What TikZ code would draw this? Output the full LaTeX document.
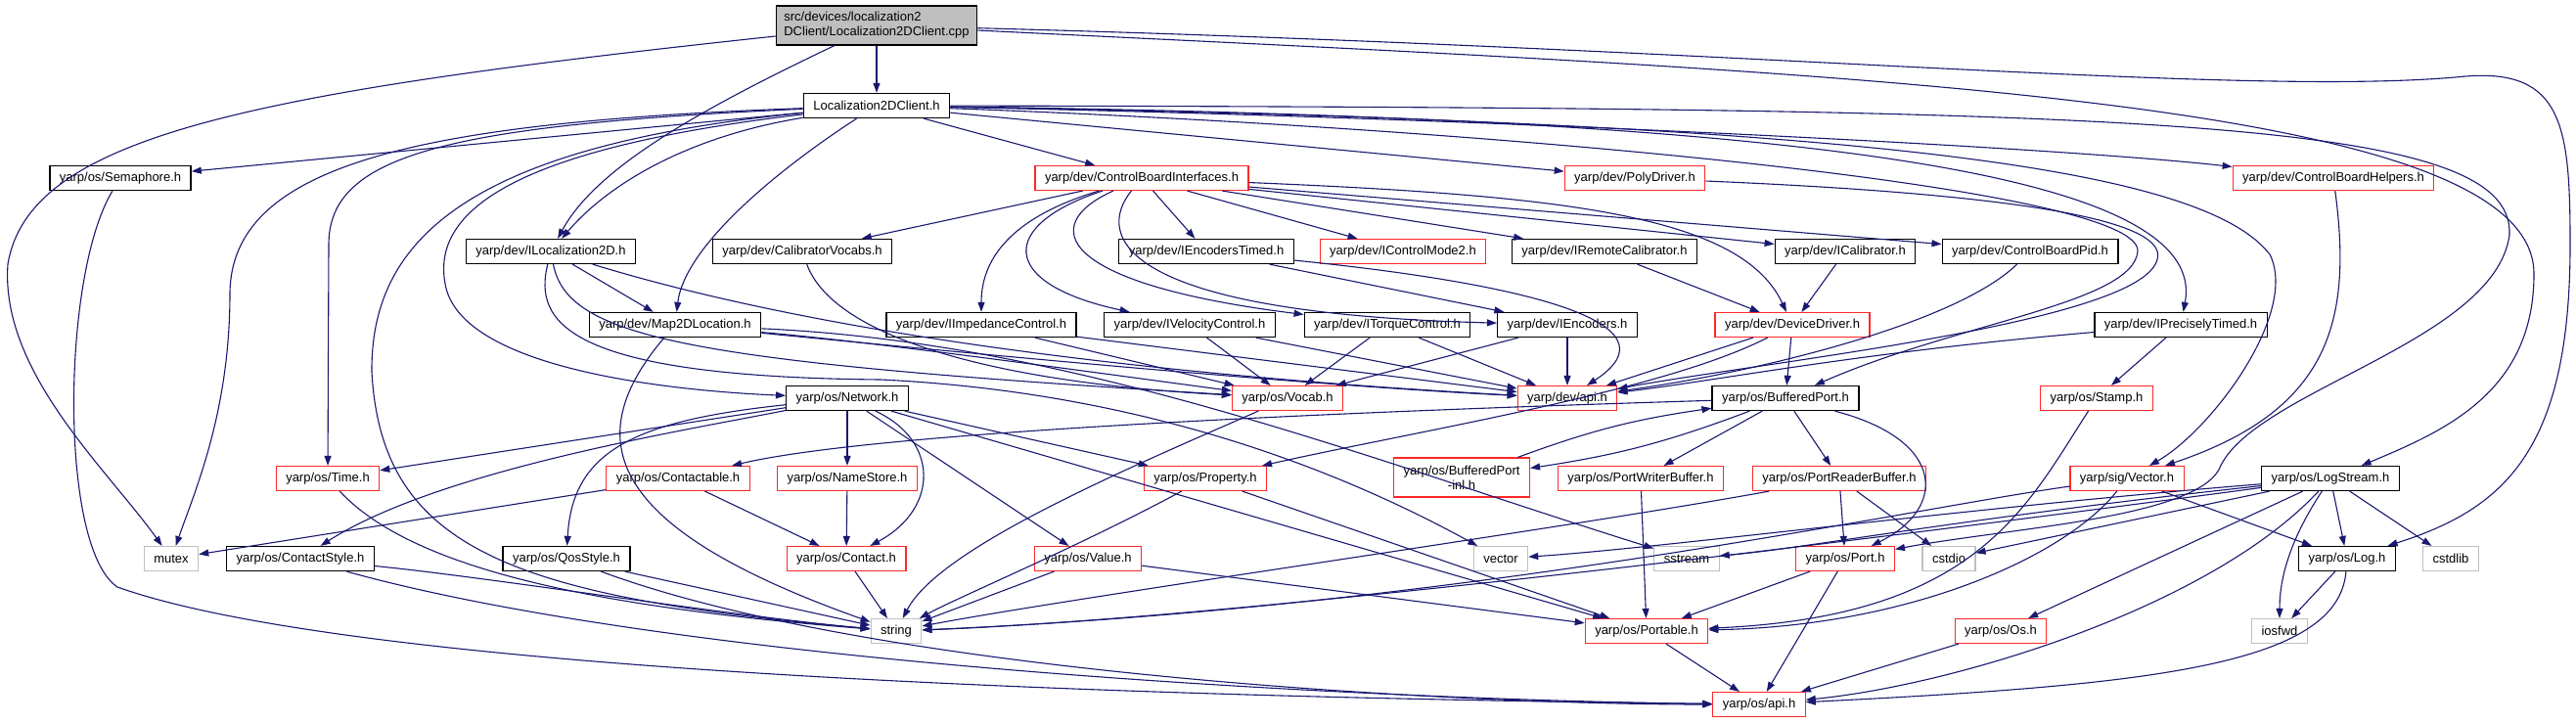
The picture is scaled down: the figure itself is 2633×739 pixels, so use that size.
\documentclass[tikz,border=0pt]{standalone}
\usepackage{fontspec}
\setmainfont{Liberation Sans}
\usepackage{tikz}
\usetikzlibrary{arrows.meta}
\definecolor{edgeblue}{RGB}{25,25,112}
\definecolor{truncred}{RGB}{255,40,40}
\definecolor{sysgray}{RGB}{191,191,191}
\tikzset{
  hdr/.style={draw=black, line width=1.3pt, fill=white, inner xsep=10pt, inner ysep=2pt,
    minimum height=25pt, font=\fontsize{13}{15}\selectfont},
  hdrred/.style={hdr, draw=truncred, line width=1.1pt},
  sysfile/.style={hdr, draw=sysgray, line width=1.1pt},
  srcfile/.style={hdr, fill=sysgray, align=left, minimum height=40pt, inner xsep=8pt},
  dep/.style={draw=edgeblue, line width=1.1pt, -{Triangle[length=10pt,width=7pt]}}
}
\begin{document}
\begin{tikzpicture}[x=1pt, y=-1pt]
  \useasboundingbox[fill=white] (0,0) rectangle (2633,739);
  % rows from top to bottom
  \node[srcfile] (root) at (896,26) {src/devices/localization2\\DClient/Localization2DClient.cpp};
  \node[hdr] (l2dc) at (896,108) {Localization2DClient.h};
  \node[hdr] (sem) at (123,182) {yarp/os/Semaphore.h};
  \node[hdrred] (cbi) at (1167,182) {yarp/dev/ControlBoardInterfaces.h};
  \node[hdrred] (poly) at (1671,182) {yarp/dev/PolyDriver.h};
  \node[hdrred] (cbh) at (2385,182) {yarp/dev/ControlBoardHelpers.h};
  \node[hdr] (iloc) at (563,257) {yarp/dev/ILocalization2D.h};
  \node[hdr] (calv) at (820,257) {yarp/dev/CalibratorVocabs.h};
  \node[hdr] (ienct) at (1233,257) {yarp/dev/IEncodersTimed.h};
  \node[hdrred] (icm) at (1434,257) {yarp/dev/IControlMode2.h};
  \node[hdr] (irc) at (1640,257) {yarp/dev/IRemoteCalibrator.h};
  \node[hdr] (ical) at (1886,257) {yarp/dev/ICalibrator.h};
  \node[hdr] (cbpid) at (2075,257) {yarp/dev/ControlBoardPid.h};
  \node[hdr] (map) at (690,332) {yarp/dev/Map2DLocation.h};
  \node[hdr] (iimp) at (1003,332) {yarp/dev/IImpedanceControl.h};
  \node[hdr] (ivel) at (1216,332) {yarp/dev/IVelocityControl.h};
  \node[hdr] (itor) at (1418,332) {yarp/dev/ITorqueControl.h};
  \node[hdr] (ienc) at (1602,332) {yarp/dev/IEncoders.h};
  \node[hdrred] (ddrv) at (1832,332) {yarp/dev/DeviceDriver.h};
  \node[hdr] (iprt) at (2229,332) {yarp/dev/IPreciselyTimed.h};
  \node[hdr] (net) at (866,407) {yarp/os/Network.h};
  \node[hdrred] (vocab) at (1316,407) {yarp/os/Vocab.h};
  \node[hdrred] (devapi) at (1602,407) {yarp/dev/api.h};
  \node[hdr] (bport) at (1825,407) {yarp/os/BufferedPort.h};
  \node[hdrred] (stamp) at (2143,407) {yarp/os/Stamp.h};
  \node[hdrred] (time) at (335,489) {yarp/os/Time.h};
  \node[hdrred] (ctbl) at (693,489) {yarp/os/Contactable.h};
  \node[hdrred] (nstore) at (866,489) {yarp/os/NameStore.h};
  \node[hdrred] (prop) at (1232,489) {yarp/os/Property.h};
  \node[hdrred, align=center, minimum height=40pt] (bpinl) at (1494,488) {yarp/os/BufferedPort\\-inl.h};
  \node[hdrred] (pwb) at (1677,489) {yarp/os/PortWriterBuffer.h};
  \node[hdrred] (prb) at (1880,489) {yarp/os/PortReaderBuffer.h};
  \node[hdrred] (svec) at (2174,489) {yarp/sig/Vector.h};
  \node[hdr] (lstream) at (2382,489) {yarp/os/LogStream.h};
  \node[sysfile] (mutex) at (175,571) {mutex};
  \node[hdr] (cstyle) at (307,571) {yarp/os/ContactStyle.h};
  \node[hdr] (qos) at (579,571) {yarp/os/QosStyle.h};
  \node[hdrred] (contact) at (865,571) {yarp/os/Contact.h};
  \node[hdrred] (value) at (1112,571) {yarp/os/Value.h};
  \node[sysfile] (vector) at (1534,571) {vector};
  \node[sysfile] (sstream) at (1724,571) {sstream};
  \node[hdrred] (port) at (1886,571) {yarp/os/Port.h};
  \node[sysfile] (cstdio) at (1992,571) {cstdio};
  \node[hdr] (log) at (2399,571) {yarp/os/Log.h};
  \node[sysfile] (cstdlib) at (2505,571) {cstdlib};
  \node[sysfile] (string) at (916,645) {string};
  \node[hdrred] (portable) at (1683,645) {yarp/os/Portable.h};
  \node[hdrred] (os) at (2045,645) {yarp/os/Os.h};
  \node[sysfile] (iosfwd) at (2330,645) {iosfwd};
  \node[hdrred] (osapi) at (1798,720) {yarp/os/api.h};

  % source file
  \draw[dep] (root) -- (l2dc);
  \draw[dep] (root) .. controls (250,95) and (30,140) .. (8,270) .. controls (0,380) and (110,480) .. (mutex);
  \draw[dep] (root) .. controls (720,110) and (610,170) .. (iloc);
  \draw[dep] (root) .. controls (1900,75) and (2590,100) .. (2590,280) .. controls (2590,400) and (2500,440) .. (lstream);
  \draw[dep] (root) .. controls (1800,50) and (2300,100) .. (2520,78) .. controls (2620,70) and (2627,130) .. (2627,250) .. controls (2627,460) and (2560,520) .. (log);

  % Localization2DClient.h
  \draw[dep] (l2dc) -- (sem);
  \draw[dep] (l2dc) .. controls (420,125) and (236,170) .. (235,300) .. controls (235,420) and (200,500) .. (mutex);
  \draw[dep] (l2dc) .. controls (450,128) and (336,160) .. (336,250) -- (time);
  \draw[dep] (l2dc) .. controls (470,150) and (379,250) .. (380,380) .. controls (390,560) and (520,610) .. (string);
  \draw[dep] (l2dc) .. controls (540,150) and (440,210) .. (455,290) .. controls (470,380) and (700,400) .. (net);
  \draw[dep] (l2dc) .. controls (700,140) and (620,190) .. (iloc);
  \draw[dep] (l2dc) .. controls (800,170) and (700,250) .. (map);
  \draw[dep] (l2dc) -- (cbi);
  \draw[dep] (l2dc) -- (poly);
  \draw[dep] (l2dc) .. controls (1500,120) and (2100,150) .. (cbh);
  \draw[dep] (l2dc) .. controls (1800,120) and (2260,170) .. (iprt);
  \draw[dep] (l2dc) .. controls (1900,125) and (2250,170) .. (2320,260) .. controls (2350,320) and (2260,440) .. (svec);
  \draw[dep] (l2dc) .. controls (2200,110) and (2570,120) .. (2565,240) .. controls (2550,350) and (2300,400) .. (2268,480) .. controls (2240,530) and (2050,540) .. (port);
  \draw[dep] (l2dc) .. controls (1500,130) and (2190,190) .. (2185,257) .. controls (2180,310) and (2000,330) .. (bport);

  % control board interfaces
  \draw[dep] (cbi) -- (calv);
  \draw[dep] (cbi) -- (ienct);
  \draw[dep] (cbi) -- (icm);
  \draw[dep] (cbi) -- (irc);
  \draw[dep] (cbi) -- (ical);
  \draw[dep] (cbi) -- (cbpid);
  \draw[dep] (cbi) .. controls (1040,220) and (1003,260) .. (iimp);
  \draw[dep] (cbi) .. controls (1020,230) and (1020,290) .. (ivel);
  \draw[dep] (cbi) .. controls (1060,230) and (1080,290) .. (itor);
  \draw[dep] (cbi) .. controls (1120,240) and (1140,320) .. (ienc);
  \draw[dep] (cbi) .. controls (1600,200) and (1780,220) .. (ddrv);
  \draw[dep] (poly) .. controls (2100,200) and (2215,230) .. (2205,265) .. controls (2190,330) and (1800,370) .. (devapi);
  \draw[dep] (cbh) .. controls (2405,330) and (2380,420) .. (svec);
  \draw[dep] (ienct) -- (ienc);
  \draw[dep] (ienct) .. controls (1560,290) and (1720,330) .. (devapi);
  \draw[dep] (irc) -- (ddrv);
  \draw[dep] (ical) -- (ddrv);
  \draw[dep] (cbpid) .. controls (2000,330) and (1800,380) .. (devapi);
  \draw[dep] (ddrv) -- (devapi);
  \draw[dep] (ddrv) -- (bport);
  \draw[dep] (ddrv) .. controls (1700,400) and (1450,440) .. (prop);
  \draw[dep] (iprt) .. controls (1900,360) and (1750,390) .. (devapi);
  \draw[dep] (iprt) -- (stamp);

  % localization and motor interfaces
  \draw[dep] (iloc) -- (map);
  \draw[dep] (iloc) .. controls (850,345) and (1200,385) .. (devapi);
  \draw[dep] (iloc) .. controls (580,345) and (700,370) .. (vocab);
  \draw[dep] (iloc) .. controls (545,330) and (580,385) .. (900,388) .. controls (1150,400) and (1350,470) .. (vector);
  \draw[dep] (map) .. controls (590,450) and (620,540) .. (string);
  \draw[dep] (map) .. controls (900,350) and (1150,385) .. (vocab);
  \draw[dep] (map) .. controls (900,352) and (1300,392) .. (devapi);
  \draw[dep] (map) .. controls (1100,350) and (1400,470) .. (sstream);
  \draw[dep] (calv) .. controls (850,340) and (1000,390) .. (vocab);
  \draw[dep] (iimp) -- (vocab);
  \draw[dep] (iimp) -- (devapi);
  \draw[dep] (ivel) -- (vocab);
  \draw[dep] (ivel) -- (devapi);
  \draw[dep] (itor) -- (vocab);
  \draw[dep] (itor) -- (devapi);
  \draw[dep] (ienc) -- (vocab);
  \draw[dep] (ienc) -- (devapi);

  % network and ports
  \draw[dep] (net) -- (time);
  \draw[dep] (net) .. controls (700,440) and (450,480) .. (cstyle);
  \draw[dep] (net) .. controls (650,430) and (585,460) .. (qos);
  \draw[dep] (net) -- (nstore);
  \draw[dep] (net) .. controls (960,450) and (960,520) .. (contact);
  \draw[dep] (net) -- (value);
  \draw[dep] (net) -- (prop);
  \draw[dep] (net) -- (portable);
  \draw[dep] (bport) .. controls (1400,420) and (900,440) .. (ctbl);
  \draw[dep] (bport) to[bend left=6] (bpinl);
  \draw[dep] (bpinl) to[bend left=6] (bport);
  \draw[dep] (bport) -- (pwb);
  \draw[dep] (bport) -- (prb);
  \draw[dep] (bport) .. controls (1990,450) and (1990,520) .. (port);
  \draw[dep] (vocab) .. controls (1150,480) and (960,560) .. (string);
  \draw[dep] (time) .. controls (420,580) and (600,620) .. (string);
  \draw[dep] (ctbl) -- (mutex);
  \draw[dep] (ctbl) -- (contact);
  \draw[dep] (nstore) -- (contact);
  \draw[dep] (prop) .. controls (1100,560) and (980,610) .. (string);
  \draw[dep] (prop) -- (portable);
  \draw[dep] (pwb) -- (portable);
  \draw[dep] (prb) .. controls (1600,540) and (1100,610) .. (string);
  \draw[dep] (prb) -- (port);
  \draw[dep] (prb) -- (cstdio);
  \draw[dep] (stamp) .. controls (2070,520) and (2020,630) .. (portable);
  \draw[dep] (svec) .. controls (1950,520) and (1500,620) .. (string);
  \draw[dep] (svec) .. controls (2110,570) and (1950,640) .. (portable);
  \draw[dep] (svec) -- (log);

  % logging
  \draw[dep] (lstream) -- (log);
  \draw[dep] (lstream) -- (cstdlib);
  \draw[dep] (lstream) .. controls (2335,560) and (2330,600) .. (iosfwd);
  \draw[dep] (lstream) .. controls (2260,620) and (2000,700) .. (osapi);
  \draw[dep] (lstream) -- (os);
  \draw[dep] (lstream) -- (cstdio);
  \draw[dep] (lstream) .. controls (2000,540) and (1300,630) .. (string);
  \draw[dep] (lstream) .. controls (2000,520) and (1700,560) .. (vector);
  \draw[dep] (lstream) .. controls (2000,530) and (1850,560) .. (sstream);
  \draw[dep] (log) -- (iosfwd);
  \draw[dep] (log) .. controls (2390,680) and (2200,700) .. (osapi);

  % bottom rows
  \draw[dep] (cstyle) .. controls (500,590) and (750,630) .. (string);
  \draw[dep] (cstyle) .. controls (700,680) and (1400,715) .. (osapi);
  \draw[dep] (qos) -- (string);
  \draw[dep] (qos) .. controls (900,690) and (1500,720) .. (osapi);
  \draw[dep] (contact) -- (string);
  \draw[dep] (value) -- (string);
  \draw[dep] (value) -- (portable);
  \draw[dep] (sem) .. controls (63,280) and (60,560) .. (120,600) .. controls (400,700) and (1400,715) .. (osapi);
  \draw[dep] (port) -- (portable);
  \draw[dep] (port) -- (osapi);
  \draw[dep] (os) -- (osapi);
  \draw[dep] (portable) -- (osapi);
\end{tikzpicture}
\end{document}
